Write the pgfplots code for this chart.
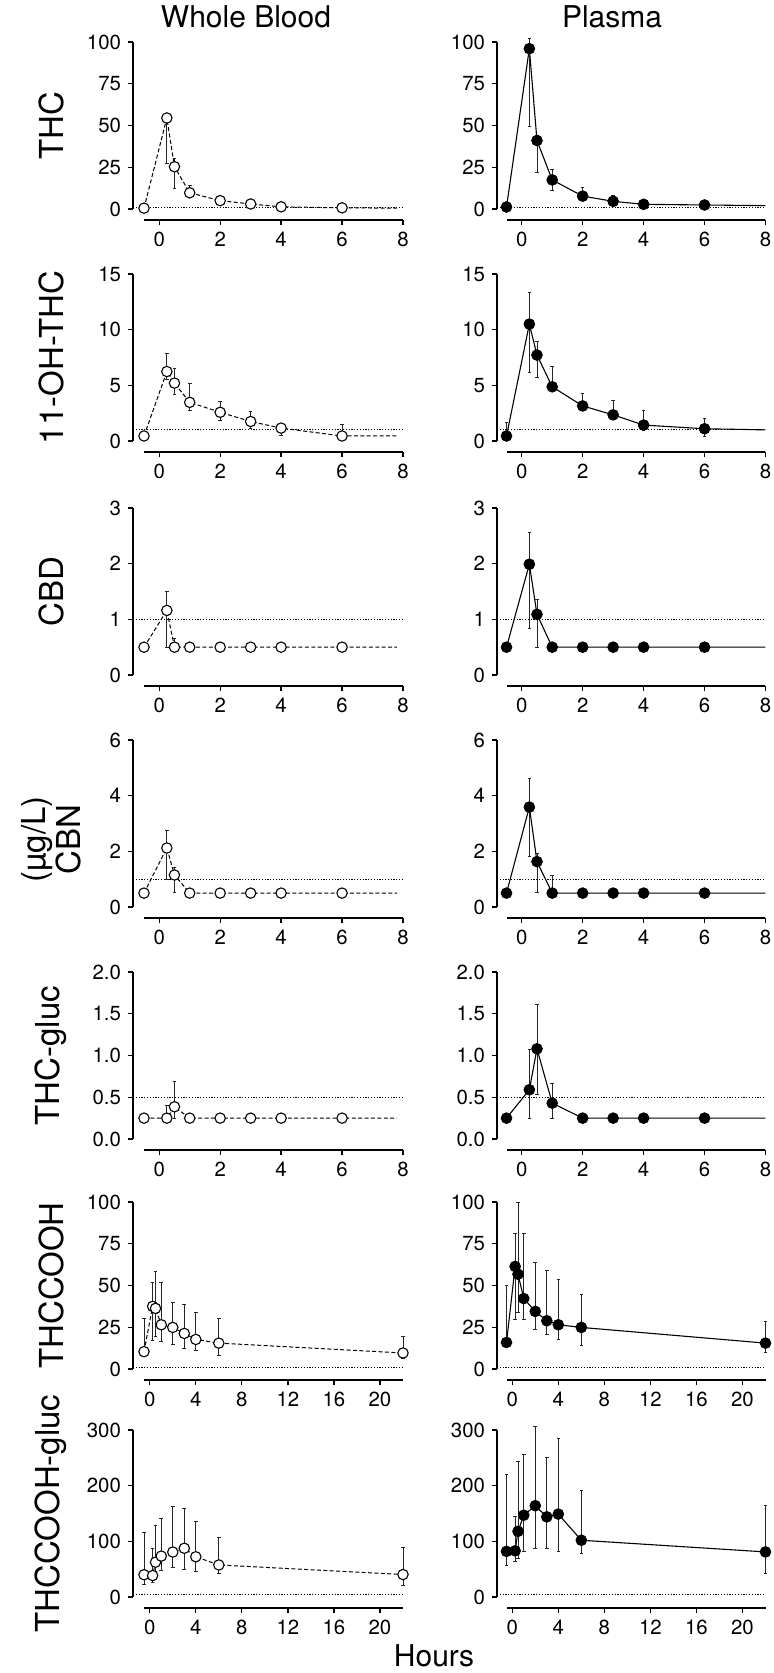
\documentclass[border=0pt]{standalone}
\usepackage{fontspec}
\setmainfont{TeX Gyre Heros}
\usepackage{pgfplots}
\usepackage{pgfplotstable}
\pgfplotsset{compat=1.18}

\newcommand{\ticksize}{\fontsize{10.2}{12}\selectfont}
\newcommand{\labsize}{\fontsize{16.5}{17.5}\selectfont}
\newcommand{\titsize}{\fontsize{15}{17}\selectfont}

% columns: t = hours, m = value, ep/em = upper/lower error
\pgfplotstableread{
t m ep em
-0.5 0.5 0 0
0.25 54.5 1 27
0.5 25.3 5 13
1 9.7 4.5 3
2 5 1.7 1.2
3 3 1.2 1
4 1.3 0.8 0.8
6 0.7 0.5 0.3
7.8 0.5 0 0
}\wbTHC
\pgfplotstableread{
t m ep em
-0.5 1.2 0 0
0.25 96 6 46.5
0.5 41 3 19
1 17.4 6 6
2 7.7 5.4 2.7
3 4.6 3.7 2
4 2.8 3.1 1.6
6 2.4 1.6 1.2
8 2.0 0 0
}\plTHC
\pgfplotstableread{
t m ep em
-0.5 0.45 0 0
0.25 6.24 1.63 0.7
0.5 5.2 1.36 1.0
1 3.47 1.67 0.7
2 2.58 0.98 0.7
3 1.75 0.86 0.62
4 1.16 0.34 0.68
6 0.45 1.04 0
7.8 0.45 0 0
}\wbOH
\pgfplotstableread{
t m ep em
-0.5 0.45 1.21 0
0.25 10.5 2.8 4.35
0.5 7.72 1.18 2.0
1 4.87 1.87 0.45
2 3.15 1.15 0.4
3 2.35 1.33 0.4
4 1.43 1.3 0.5
6 1.1 0.9 0.68
8 1.0 0 0
}\plOH
\pgfplotstableread{
t m ep em
-0.5 0.5 0 0
0.25 1.16 0.34 0.66
0.5 0.5 0.15 0
1 0.5 0 0
2 0.5 0 0
3 0.5 0 0
4 0.5 0 0
6 0.5 0 0
7.8 0.5 0 0
}\wbCBD
\pgfplotstableread{
t m ep em
-0.5 0.5 0 0
0.25 1.99 0.57 1.16
0.5 1.09 0.26 0.59
1 0.5 0 0
2 0.5 0 0
3 0.5 0 0
4 0.5 0 0
6 0.5 0 0
8 0.5 0 0
}\plCBD
\pgfplotstableread{
t m ep em
-0.5 0.5 0 0
0.25 2.12 0.63 1.12
0.5 1.15 0.27 0.63
1 0.5 0 0
2 0.5 0 0
3 0.5 0 0
4 0.5 0 0
6 0.5 0 0
7.8 0.5 0 0
}\wbCBN
\pgfplotstableread{
t m ep em
-0.5 0.5 0 0
0.25 3.59 1.04 1.79
0.5 1.63 0.31 1.11
1 0.5 0.64 0
2 0.5 0 0
3 0.5 0 0
4 0.5 0 0
6 0.5 0 0
8 0.5 0 0
}\plCBN
\pgfplotstableread{
t m ep em
-0.5 0.25 0 0
0.25 0.25 0.15 0
0.5 0.386 0.3 0.136
1 0.25 0 0
2 0.25 0 0
3 0.25 0 0
4 0.25 0 0
6 0.25 0 0
7.8 0.25 0 0
}\wbGLUC
\pgfplotstableread{
t m ep em
-0.5 0.25 0 0
0.25 0.59 0.48 0.34
0.5 1.08 0.53 0.55
1 0.43 0.23 0.18
2 0.25 0 0
3 0.25 0 0
4 0.25 0 0
6 0.25 0 0
8 0.25 0 0
}\plGLUC
\pgfplotstableread{
t m ep em
-0.5 10.4 19.9 0
0.25 37.5 14.1 20.4
0.5 36.3 22.3 17
1 26.5 25.3 10
2 24.9 14.7 10
3 21.3 17.1 8.9
4 17.7 16.2 6.7
6 15.5 14.8 7.1
22 9.6 9.7 3.5
}\wbCOOH
\pgfplotstableread{
t m ep em
-0.5 15.9 34.1 0
0.25 61.4 19.9 31.5
0.5 56.8 42.8 22.7
1 42.2 38.7 12.3
2 34.5 29.4 11
3 28.9 30.3 8
4 26.5 27.1 9
6 24.9 19.9 11
22 15.5 13.2 5.3
}\plCOOH
\pgfplotstableread{
t m ep em
-0.5 40 76 17
0.25 38.6 48 13
0.5 62.5 66 26
1 73.5 68 26
2 80.8 81 27
3 87.6 72 38
4 72.3 64 26
6 57.6 49 16
22 40.4 48 19
}\wbCG
\pgfplotstableread{
t m ep em
-0.5 82 138 26
0.25 83 61 19
0.5 118 126 48
1 147 109 66
2 164 143 77
3 144 106 57
4 149 135 68
6 102 90 24
22 81 84 39
}\plCG

\pgfplotsset{
  panel/.style={
    scale only axis, width=129.5pt, height=83.5pt, anchor=south west,
    axis lines=left, axis line style={-, line width=0.65pt},
    axis x line shift=5.5pt,
    tick align=outside, major tick length=2.5pt,
    tick style={line width=0.65pt, black},
    xtick pos=left, ytick pos=left,
    xmin=-0.5, ymin=0, clip=false,
    tick label style={font=\ticksize},
    /pgf/number format/assume math mode=true,
    every axis y label/.style={at={(rel axis cs:0,0.5)}, xshift=-46.5pt,
      rotate=90, anchor=center, font=\labsize, align=center},
  },
  leftcol/.style={axis y line shift=5.5pt},
  rightcol/.style={axis y line shift=4.75pt},
  short/.style={xmax=8, xtick={0,2,4,6,8}},
  long/.style={xmax=22, xtick={0,4,8,12,16,20}},
  wbline/.style={black, line width=0.5pt, dash pattern=on 2pt off 1.2pt, no markers},
  plline/.style={black, line width=0.55pt, no markers},
  wbmarks/.style={only marks, mark=*, mark size=2.6pt,
    mark options={solid, fill=white, draw=black, line width=0.55pt}},
  plmarks/.style={only marks, mark=*, mark size=2.7pt,
    mark options={solid, fill=black, draw=black}},
  errs/.style={only marks, mark=none, forget plot,
    error bars/.cd, y dir=both, y explicit,
    error bar style={line width=0.45pt, black!85, solid},
    error mark options={rotate=90, mark size=0.9pt, line width=0.45pt, black!85}},
  loq/.style={black, line width=0.45pt, dash pattern=on 0.6pt off 0.8pt, no markers},
}

% #1 wb/pl, #2 table, #3 last hour that gets a marker
\newcommand{\series}[3]{%
  \addplot[#1line] table[x=t, y=m] {#2};
  \addplot[restrict x to domain=-1:#3, errs]
    table[x=t, y=m, y error plus=ep, y error minus=em] {#2};
  \addplot[restrict x to domain=-1:#3, #1marks] table[x=t, y=m] {#2};
}

\begin{document}
\begin{tikzpicture}
\useasboundingbox (0,0) rectangle (386.5pt,-836.5pt);

% row 1: THC
\begin{axis}[panel, leftcol, short, at={(72pt,-104.5pt)}, ymax=100,
  ytick={0,25,50,75,100}, ylabel={THC}]
\addplot[loq] coordinates {(-0.86,1) (8,1)};
\series{wb}{\wbTHC}{7}
\end{axis}
\begin{axis}[panel, rightcol, short, at={(253.25pt,-104.5pt)}, ymax=100,
  ytick={0,25,50,75,100}]
\addplot[loq] coordinates {(-0.81,1) (8,1)};
\series{pl}{\plTHC}{7}
\end{axis}

% row 2: 11-OH-THC
\begin{axis}[panel, leftcol, short, at={(72pt,-220.5pt)}, ymax=15,
  ytick={0,5,10,15}, ylabel={11-OH-THC}]
\addplot[loq] coordinates {(-0.86,1) (8,1)};
\series{wb}{\wbOH}{7}
\end{axis}
\begin{axis}[panel, rightcol, short, at={(253.25pt,-220.5pt)}, ymax=15,
  ytick={0,5,10,15}]
\addplot[loq] coordinates {(-0.81,1) (8,1)};
\series{pl}{\plOH}{7}
\end{axis}

% row 3: CBD
\begin{axis}[panel, leftcol, short, at={(72pt,-337.5pt)}, ymax=3,
  ytick={0,1,2,3}, ylabel={CBD}]
\addplot[loq] coordinates {(-0.86,1) (8,1)};
\series{wb}{\wbCBD}{7}
\end{axis}
\begin{axis}[panel, rightcol, short, at={(253.25pt,-337.5pt)}, ymax=3,
  ytick={0,1,2,3}]
\addplot[loq] coordinates {(-0.81,1) (8,1)};
\series{pl}{\plCBD}{7}
\end{axis}

% row 4: CBN
\begin{axis}[panel, leftcol, short, at={(72pt,-453.5pt)}, ymax=6,
  ytick={0,2,4,6}, ylabel={(µg/L)\\CBN},
  every axis y label/.append style={xshift=-8pt}]
\addplot[loq] coordinates {(-0.86,1) (8,1)};
\series{wb}{\wbCBN}{7}
\end{axis}
\begin{axis}[panel, rightcol, short, at={(253.25pt,-453.5pt)}, ymax=6,
  ytick={0,2,4,6}]
\addplot[loq] coordinates {(-0.81,1) (8,1)};
\series{pl}{\plCBN}{7}
\end{axis}

% row 5: THC-gluc
\begin{axis}[panel, leftcol, short, at={(72pt,-569.5pt)}, ymax=2,
  ytick={0,0.5,1,1.5,2}, ylabel={THC-gluc},
  yticklabel style={/pgf/number format/.cd, fixed, fixed zerofill, precision=1}]
\addplot[loq] coordinates {(-0.86,0.5) (8,0.5)};
\series{wb}{\wbGLUC}{7}
\end{axis}
\begin{axis}[panel, rightcol, short, at={(253.25pt,-569.5pt)}, ymax=2,
  ytick={0,0.5,1,1.5,2},
  yticklabel style={/pgf/number format/.cd, fixed, fixed zerofill, precision=1}]
\addplot[loq] coordinates {(-0.81,0.5) (8,0.5)};
\series{pl}{\plGLUC}{7}
\end{axis}

% row 6: THCCOOH
\begin{axis}[panel, leftcol, long, at={(72pt,-684.5pt)}, ymax=100,
  ytick={0,25,50,75,100}, ylabel={THCCOOH}]
\addplot[loq] coordinates {(-1.46,1) (22,1)};
\series{wb}{\wbCOOH}{23}
\end{axis}
\begin{axis}[panel, rightcol, long, at={(253.25pt,-684.5pt)}, ymax=100,
  ytick={0,25,50,75,100}]
\addplot[loq] coordinates {(-1.33,1) (22,1)};
\series{pl}{\plCOOH}{23}
\end{axis}

% row 7: THCCOOH-gluc
\begin{axis}[panel, leftcol, long, at={(72pt,-798.5pt)}, ymax=300,
  ytick={0,100,200,300}, ylabel={THCCOOH-gluc}]
\addplot[loq] coordinates {(-1.46,5) (22,5)};
\series{wb}{\wbCG}{23}
\end{axis}
\begin{axis}[panel, rightcol, long, at={(253.25pt,-798.5pt)}, ymax=300,
  ytick={0,100,200,300}]
\addplot[loq] coordinates {(-1.33,5) (22,5)};
\series{pl}{\plCG}{23}
\end{axis}

\node[font=\titsize] at (123pt,-8.5pt) {Whole Blood};
\node[font=\titsize] at (306pt,-8.5pt) {Plasma};
\node[font=\titsize] at (217pt,-828pt) {Hours};
\end{tikzpicture}
\end{document}
